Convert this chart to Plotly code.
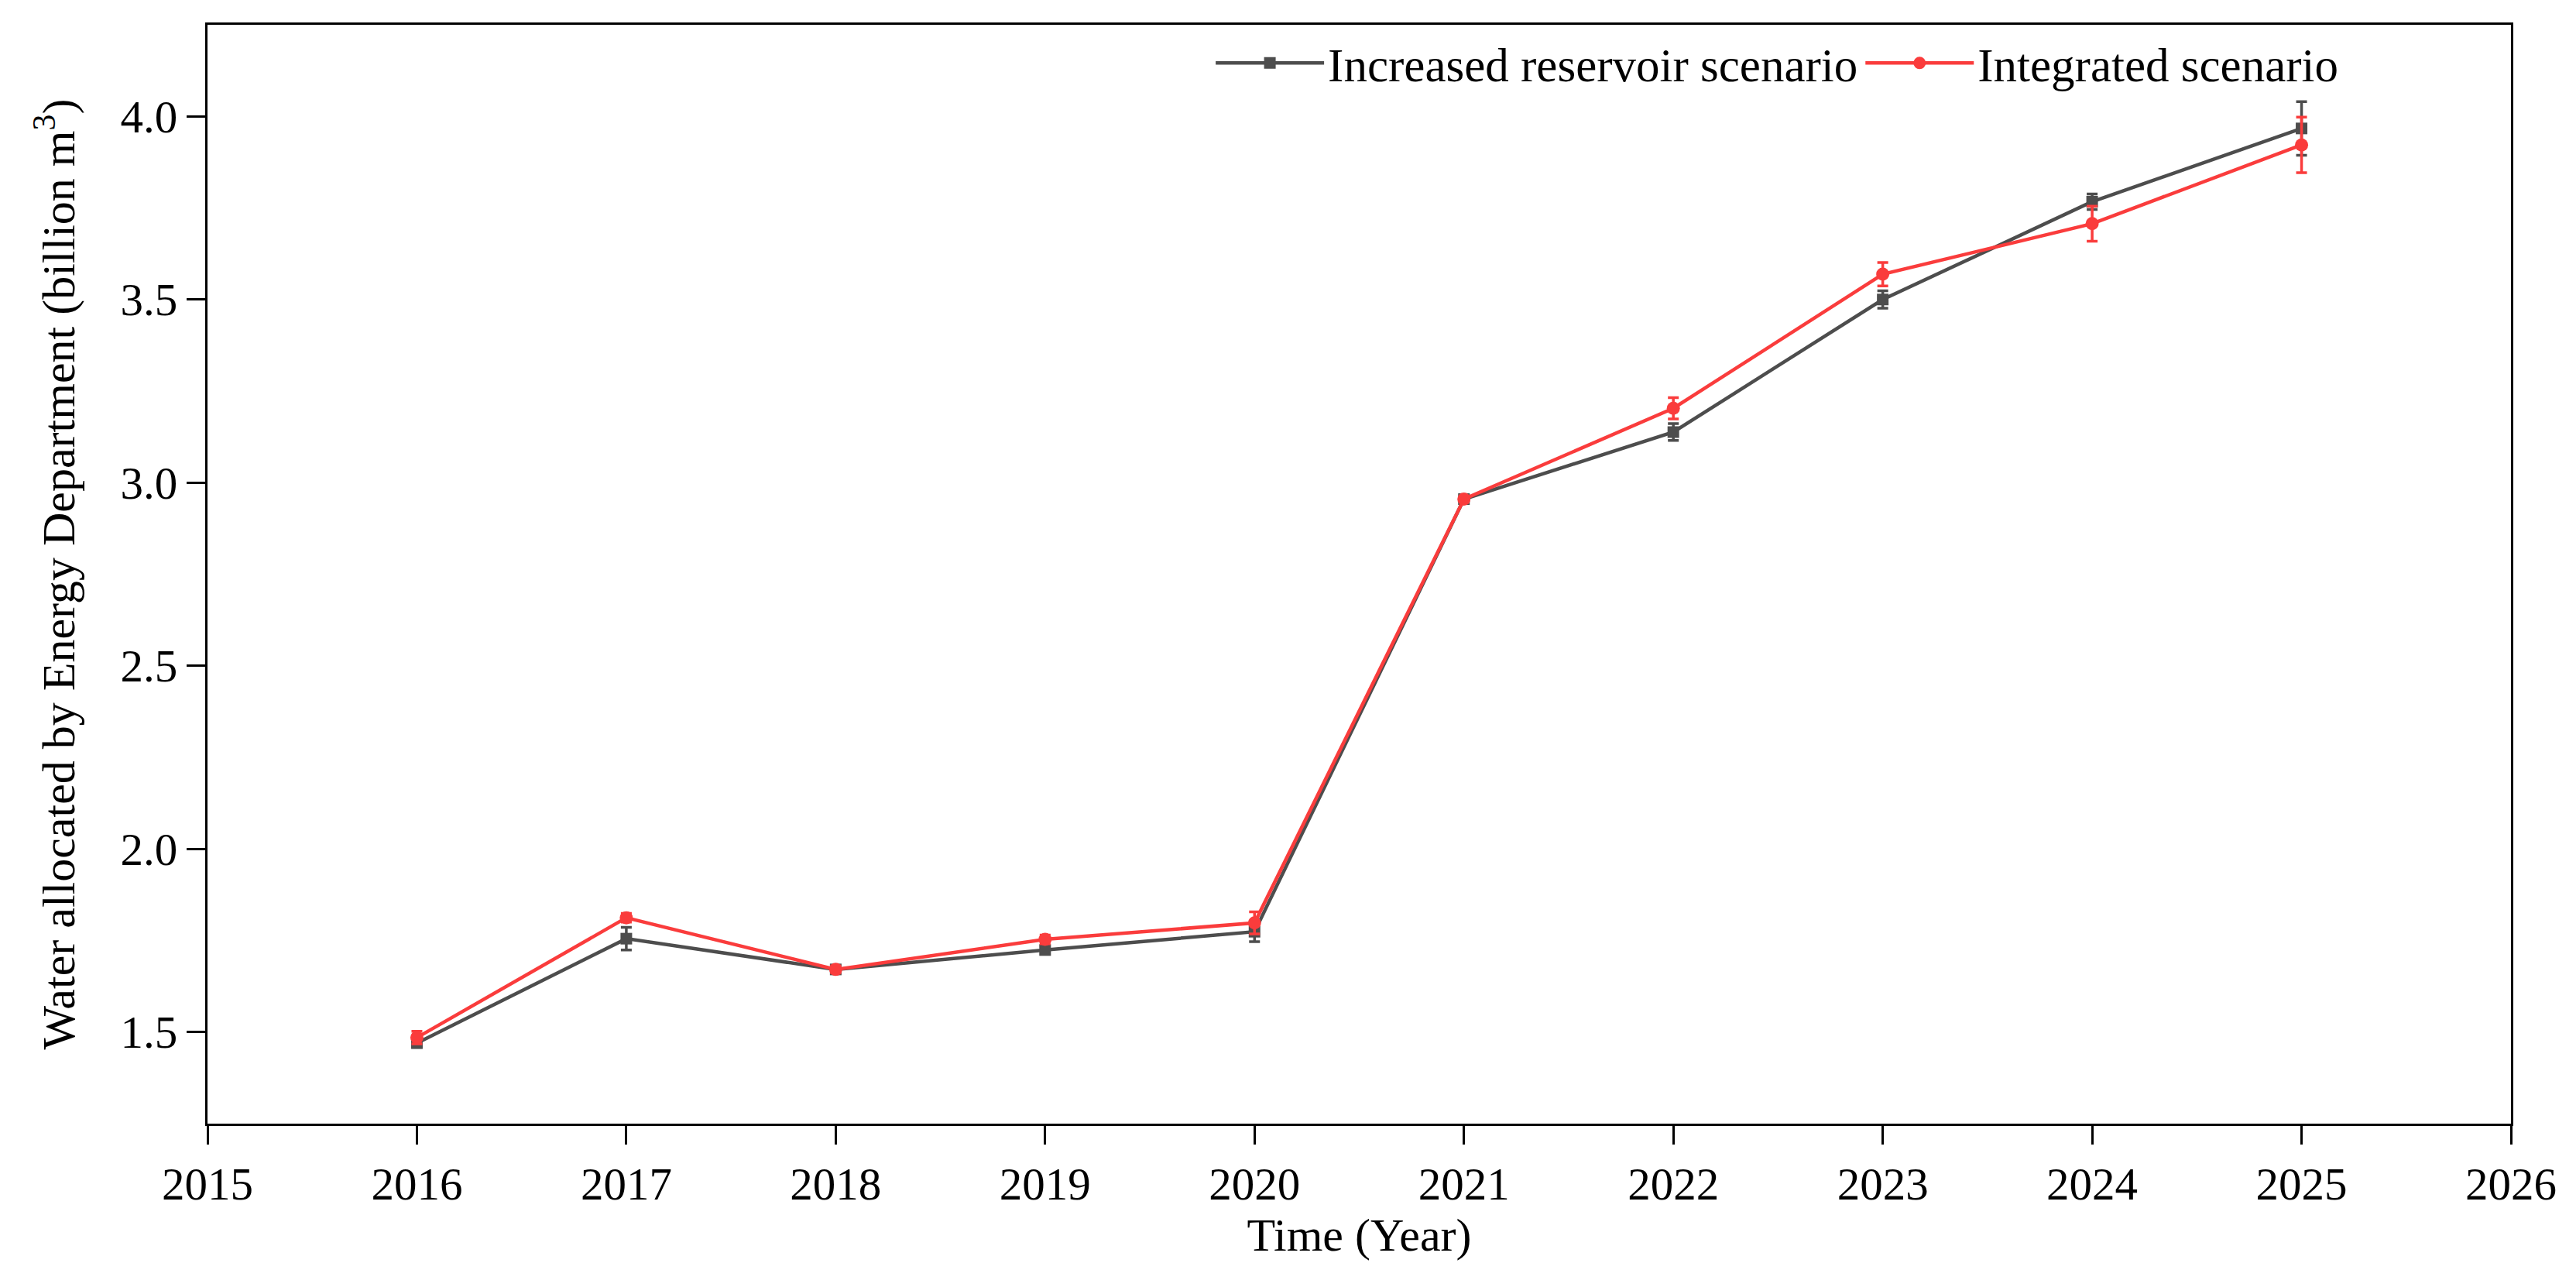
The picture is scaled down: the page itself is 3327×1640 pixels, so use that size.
import plotly.graph_objects as go

years = [2016, 2017, 2018, 2019, 2020, 2021, 2022, 2023, 2024, 2025]
increased = [1.470, 1.755, 1.671, 1.724, 1.774, 2.955, 3.138, 3.500, 3.767, 3.967]
increased_err = [0.012, 0.031, 0.008, 0.010, 0.027, 0.005, 0.023, 0.024, 0.021, 0.073]
integrated = [1.485, 1.812, 1.671, 1.753, 1.798, 2.955, 3.203, 3.569, 3.707, 3.922]
integrated_err = [0.017, 0.012, 0.010, 0.012, 0.030, 0.006, 0.029, 0.032, 0.048, 0.076]

x_ticks = list(range(2015, 2027))
y_ticks = [1.5, 2.0, 2.5, 3.0, 3.5, 4.0]

GREY = "#4d4d4d"
RED = "#fa3c3c"
FONT = "Times New Roman, Liberation Serif, serif"

fig = go.Figure()
fig.add_trace(go.Scatter(
    x=years, y=increased, name="Increased reservoir scenario",
    mode="lines+markers",
    line=dict(color=GREY, width=4.5),
    marker=dict(symbol="square", size=15, color=GREY),
    error_y=dict(type="data", array=increased_err, visible=True,
                 color=GREY, thickness=3.5, width=7),
))
fig.add_trace(go.Scatter(
    x=years, y=integrated, name="Integrated scenario",
    mode="lines+markers",
    line=dict(color=RED, width=4.5),
    marker=dict(symbol="circle", size=17, color=RED),
    error_y=dict(type="data", array=integrated_err, visible=True,
                 color=RED, thickness=3.5, width=7),
))

fig.update_layout(
    width=3319, height=1632,
    margin=dict(l=260, r=84, t=24, b=189),
    paper_bgcolor="white", plot_bgcolor="white",
    font=dict(family=FONT, size=60, color="black"),
    showlegend=True,
    legend=dict(
        orientation="h", x=0.436, y=0.965, xanchor="left", yanchor="middle",
        bgcolor="rgba(0,0,0,0)", font=dict(family=FONT, size=61),
        itemwidth=140, tracegroupgap=0,
    ),
    xaxis=dict(
        range=[2015, 2026], tickmode="array", tickvals=x_ticks,
        ticktext=[str(t) for t in x_ticks],
        showgrid=False, zeroline=False,
        showline=True, linecolor="black", linewidth=3, mirror=True,
        ticks="outside", ticklen=24, tickwidth=3, tickcolor="black",
        tickfont=dict(family=FONT, size=59),
        title=dict(text="Time (Year)", font=dict(family=FONT, size=60), standoff=0),
    ),
    yaxis=dict(
        range=[1.25, 4.25], tickmode="array", tickvals=y_ticks,
        ticktext=[f"{v:.1f}" for v in y_ticks],
        showgrid=False, zeroline=False,
        showline=True, linecolor="black", linewidth=3, mirror=True,
        ticks="outside", ticklen=24, tickwidth=3, tickcolor="black",
        tickfont=dict(family=FONT, size=59),
        title=dict(text="Water allocated by Energy Department (billion m<sup>3</sup>)",
                   font=dict(family=FONT, size=60), standoff=40),
    ),
)

fig.write_html("out.html")
